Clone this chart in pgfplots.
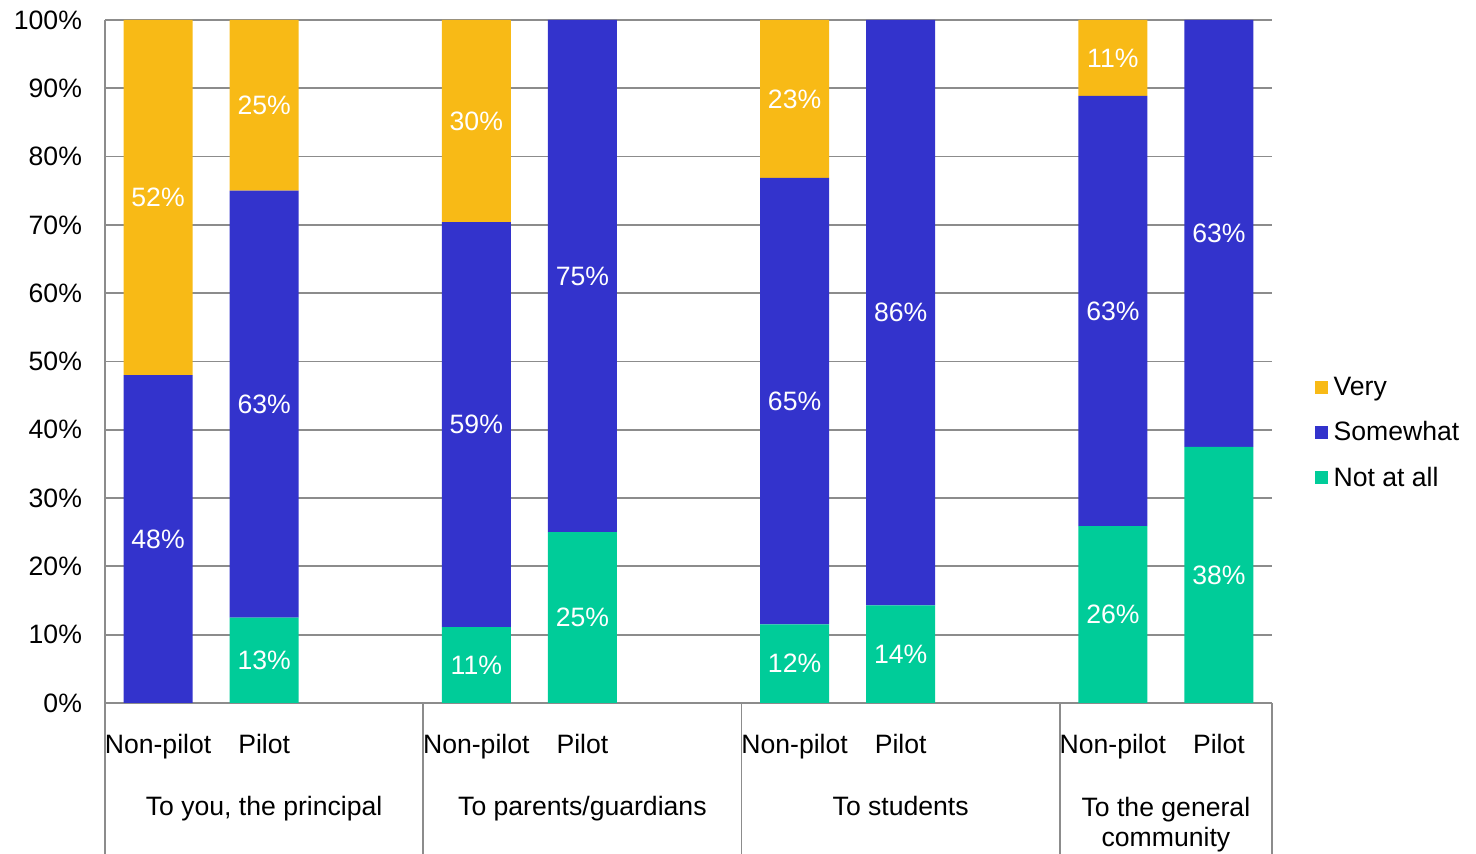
\documentclass[border=0pt]{standalone}
\usepackage{pgfplots}
\pgfplotsset{compat=1.18}
\usepackage{pgfplotstable}
\usepackage{fontspec}
\setmainfont{Liberation Sans}
\definecolor{cVery}{HTML}{F8BA16}
\definecolor{cSome}{HTML}{3333CC}
\definecolor{cNot}{HTML}{00CC99}
\definecolor{axgray}{RGB}{140,140,140}
\newcommand{\fs}{\fontsize{13.3}{15}\selectfont}

% x: slot; n: Not at all; s: Somewhat; w: Very (percent)
\pgfplotstableread{
x n s w
0 0 48.0 52.0
1 12.5 62.5 25.0
3 11.1 59.3 29.6
4 25.0 75.0 0
6 11.5 65.4 23.1
7 14.3 85.7 0
9 25.9 63.0 11.1
10 37.5 62.5 0
}\data

\pgfplotsset{
  common/.style={
    at={(52.5pt,75.5pt)}, anchor=south west,
    scale only axis, width=583.5pt, height=341.5pt,
    xmin=-0.5, xmax=10.5, ymin=0, ymax=100, clip=false,
  },
  seglab/.style={
    draw=none, mark=none, unbounded coords=discard,
    point meta=explicit,
    nodes near coords={\pgfmathprintnumber[fixed,precision=0,assume math mode=true]{\pgfplotspointmeta}\%},
    every node near coord/.style={anchor=center, text=white, font=\fs},
  },
}

\begin{document}
\begin{tikzpicture}
\useasboundingbox (0,0) rectangle (738pt,427pt);
\begin{axis}[
  common,
  ybar stacked, bar width=34.5pt,
  axis x line*=bottom, axis y line*=left,
  axis line style={draw=axgray, line width=0.9pt},
  ymajorgrids, grid style={draw=axgray, line width=0.9pt},
  major tick length=0pt,
  ytick={0,10,...,100},
  yticklabels={0\%,10\%,20\%,30\%,40\%,50\%,60\%,70\%,80\%,90\%,100\%},
  xtick={0,1,3,4,6,7,9,10},
  xticklabels={Non-pilot,Pilot,Non-pilot,Pilot,Non-pilot,Pilot,Non-pilot,Pilot},
  tick label style={font=\fs, text=black},
  yticklabel style={anchor=east, xshift=-8pt},
  xticklabel style={anchor=base, yshift=-25.3pt},
  legend style={draw=none, fill=none, at={(1.031,0.395)}, anchor=west, font=\fs, row sep=7.5pt},
  legend cell align=left,
  reverse legend,
  legend image code/.code={\fill[#1] (0pt,-3.25pt) rectangle (6.5pt,3.25pt);},
  legend style={nodes={inner xsep=3pt}},
]
\addplot[fill=cNot, draw=none] table[x=x, y=n] {\data};
\addlegendentry{Not at all}
\addplot[fill=cSome, draw=none] table[x=x, y=s] {\data};
\addlegendentry{Somewhat}
\addplot[fill=cVery, draw=none] table[x=x, y=w] {\data};
\addlegendentry{Very}
\foreach \xx in {-0.5,2.5,5.5,8.5,10.5} {
  \edef\tmp{\noexpand\draw[axgray, line width=0.9pt] (axis cs:\xx,0) -- ([yshift=-80pt]axis cs:\xx,0);}
  \tmp
}
\node[font=\fs, anchor=base, yshift=-56.5pt] at (axis cs:1,0) {To you, the principal};
\node[font=\fs, anchor=base, yshift=-56.5pt] at (axis cs:4,0) {To parents/guardians};
\node[font=\fs, anchor=base, yshift=-56.5pt] at (axis cs:7,0) {To students};
\node[font=\fs, yshift=-61pt, align=center] at (axis cs:9.5,0) {To the general\\community};
\end{axis}
\begin{axis}[common, hide axis]
\addplot[seglab] table[x=x, y expr={\thisrow{n}>0 ? \thisrow{n}/2 : nan}, meta=n] {\data};
\addplot[seglab] table[x=x, y expr={\thisrow{s}>0 ? \thisrow{n}+\thisrow{s}/2 : nan}, meta=s] {\data};
\addplot[seglab] table[x=x, y expr={\thisrow{w}>0 ? \thisrow{n}+\thisrow{s}+\thisrow{w}/2 : nan}, meta=w] {\data};
\end{axis}
\end{tikzpicture}
\end{document}
